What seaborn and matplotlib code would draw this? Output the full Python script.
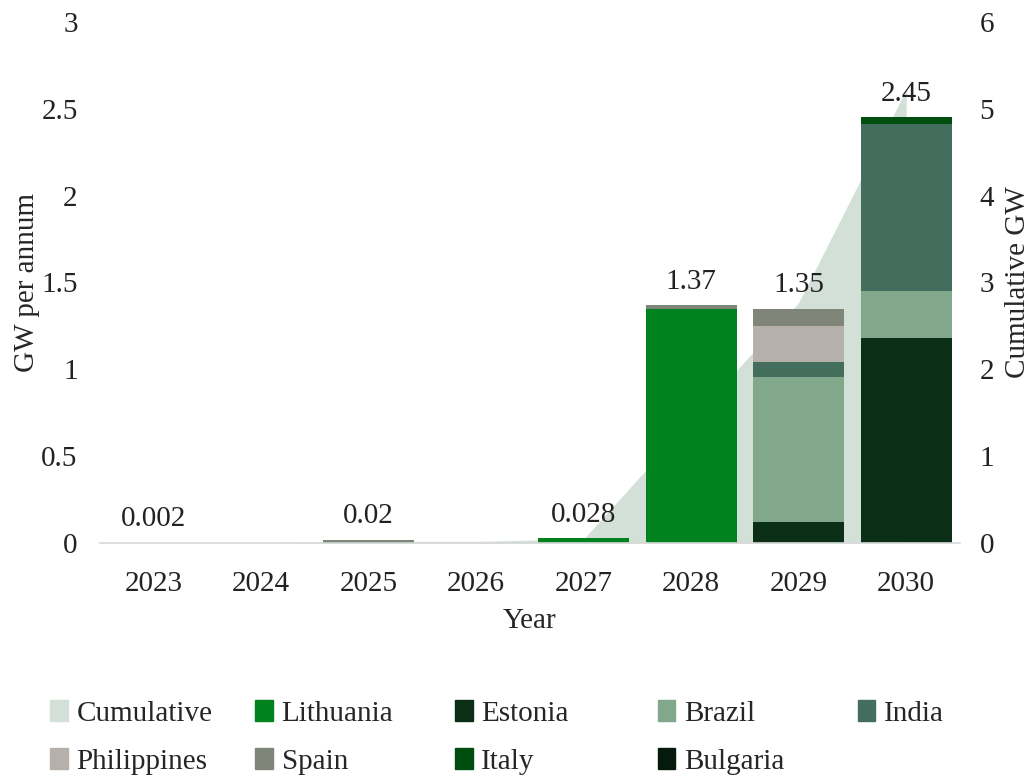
import matplotlib
matplotlib.use("Agg")
import matplotlib.pyplot as plt
import numpy as np
import pandas as pd
import seaborn as sns
from matplotlib.patches import Patch

years = ["2023", "2024", "2025", "2026", "2027", "2028", "2029", "2030"]

# GW per annum by country (stack order, bottom to top)
lithuania = [0.0, 0.0, 0.0, 0.0, 0.028, 1.35, 0.0, 0.0]
estonia = [0.0, 0.0, 0.0, 0.0, 0.0, 0.0, 0.125, 1.18]
brazil = [0.0, 0.0, 0.0, 0.0, 0.0, 0.0, 0.83, 0.27]
india = [0.0, 0.0, 0.006, 0.0, 0.0, 0.0, 0.09, 0.96]
philippines = [0.002, 0.0, 0.0, 0.0, 0.0, 0.0, 0.205, 0.0]
spain = [0.0, 0.0, 0.014, 0.0, 0.0, 0.02, 0.10, 0.0]
italy = [0.0, 0.0, 0.0, 0.0, 0.0, 0.0, 0.0, 0.04]
bulgaria = [0.0, 0.0, 0.0, 0.0, 0.0, 0.0, 0.0, 0.0]

totals = [0.002, 0.0, 0.02, 0.0, 0.028, 1.37, 1.35, 2.45]
total_labels = ["0.002", "", "0.02", "", "0.028", "1.37", "1.35", "2.45"]
cumulative = [0.002, 0.002, 0.022, 0.022, 0.05, 1.42, 2.77, 5.22]

series = {
    "Lithuania": (lithuania, "#00821e"),
    "Estonia": (estonia, "#0b2e17"),
    "Brazil": (brazil, "#82a88c"),
    "India": (india, "#436e5e"),
    "Philippines": (philippines, "#b5b1aa"),
    "Spain": (spain, "#808579"),
    "Italy": (italy, "#004d10"),
    "Bulgaria": (bulgaria, "#061a0c"),
}
cum_color = "#d3e0d8"
fs = 21

sns.set_style("white")
plt.rcParams["font.family"] = ["Liberation Serif", "DejaVu Serif"]
plt.rcParams["font.size"] = fs

fig, ax = plt.subplots(figsize=(10.3, 7.75), dpi=100)
fig.subplots_adjust(left=0.097, right=0.932, top=0.972, bottom=0.299)
ax2 = ax.twinx()

# cumulative area on secondary axis, behind the bars
ax2.fill_between(np.arange(len(years)), cumulative, color=cum_color, linewidth=0)
ax2.set_ylim(0, 6)
ax2.set_ylabel("Cumulative GW", fontsize=fs)
ax2.yaxis.set_label_coords(1.052, 0.5)

ax.set_zorder(ax2.get_zorder() + 1)
ax.patch.set_visible(False)

bottom = np.zeros(len(years))
for name, (vals, col) in series.items():
    df = pd.DataFrame({"Year": years, "GW": vals})
    sns.barplot(data=df, x="Year", y="GW", color=col, bottom=bottom,
                width=0.85, linewidth=0, saturation=1, ax=ax)
    bottom = bottom + np.array(vals)

for i, (t, lab) in enumerate(zip(totals, total_labels)):
    if lab:
        ax.text(i, t + 0.06, lab, ha="center", va="bottom", fontsize=fs, color="#222222")

ax.set_ylim(0, 3)
ax.set_xlim(-0.5, len(years) - 0.5)
ax.set_yticks(np.arange(0, 3.01, 0.5))
ax.set_yticklabels(["0", "0.5", "1", "1.5", "2", "2.5", "3"])
ax.set_ylabel("GW per annum", fontsize=fs)
ax.yaxis.set_label_coords(-0.07, 0.5)
ax.set_xlabel("Year", fontsize=fs, labelpad=8)
ax.tick_params(axis="x", length=0, labelsize=fs, colors="#222222", pad=20)
ax.tick_params(axis="y", length=0, labelsize=fs, colors="#222222", pad=16)
ax2.tick_params(axis="y", length=0, labelsize=fs, colors="#222222", pad=14)

for a in (ax, ax2):
    for s in ["top", "left", "right", "bottom"]:
        a.spines[s].set_visible(False)
ax.spines["bottom"].set_visible(True)
ax.spines["bottom"].set_color("#d9d9d9")
ax.spines["bottom"].set_linewidth(1.2)

handles = [Patch(color=cum_color, label="Cumulative")]
handles += [Patch(color=col, label=name) for name, (vals, col) in series.items()]
# one small legend per column so the columns sit at even spacing
col_x = [0.029, 0.228, 0.422, 0.619, 0.813]
for c, x0 in enumerate(col_x):
    hs = handles[c::5]
    fig.legend(handles=hs, loc="upper left", bbox_to_anchor=(x0, 0.123),
               frameon=False, fontsize=fs, handlelength=0.6, handleheight=0.7,
               handletextpad=0.3, labelspacing=0.75, borderpad=0.2)

fig.savefig("out.png", dpi=100)
